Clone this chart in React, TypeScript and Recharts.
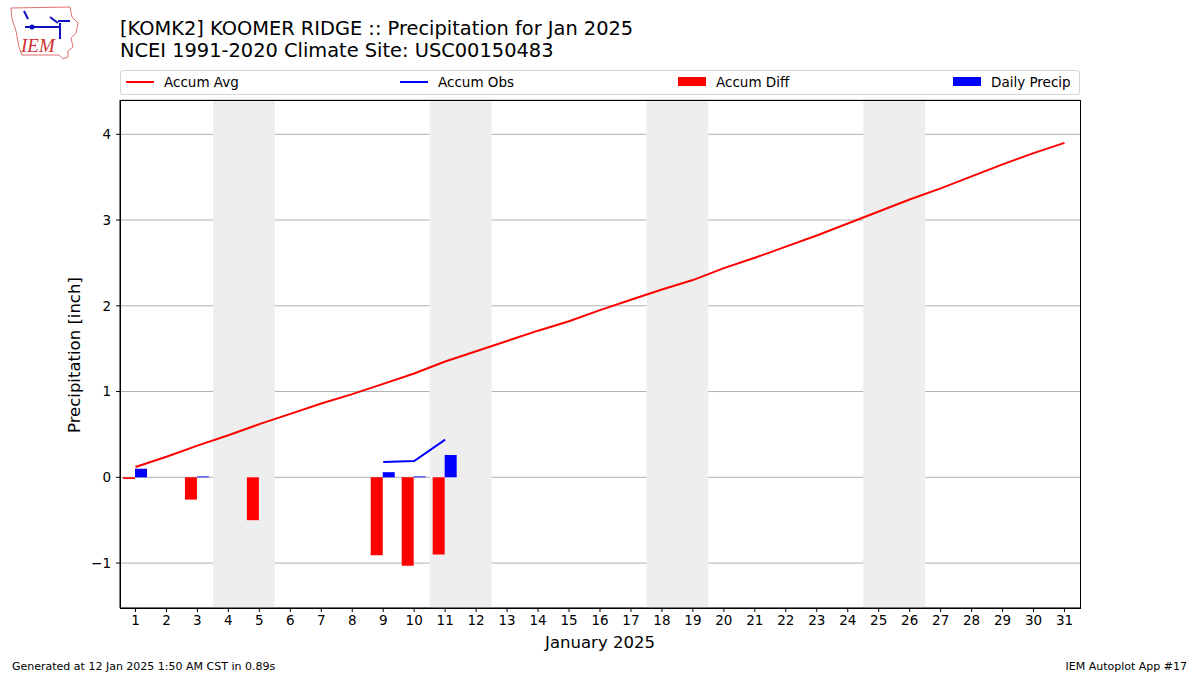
import {
  ComposedChart, Line, Bar, XAxis, YAxis, CartesianGrid, ReferenceArea,
} from "recharts";

const DAYS = [
  1, 2, 3, 4, 5, 6, 7, 8, 9, 10, 11, 12, 13, 14, 15, 16,
  17, 18, 19, 20, 21, 22, 23, 24, 25, 26, 27, 28, 29, 30, 31,
];

const ACCUM_AVG = [
  0.12, 0.24, 0.37, 0.49, 0.62, 0.74, 0.86, 0.97, 1.09, 1.21, 1.35, 1.47, 1.59, 1.71, 1.82, 1.95,
  2.07, 2.19, 2.30, 2.44, 2.56, 2.69, 2.82, 2.96, 3.10, 3.24, 3.37, 3.51, 3.65, 3.78, 3.90,
];

const ACCUM_OBS: (number | null)[] = [
  null, null, null, null, null, null, null, null, 0.18, 0.19, 0.44, null, null, null, null, null,
  null, null, null, null, null, null, null, null, null, null, null, null, null, null, null,
];

const ACCUM_DIFF: (number | null)[] = [
  -0.02, null, -0.26, null, -0.5, null, null, null, -0.91, -1.03, -0.9, null, null, null, null, null,
  null, null, null, null, null, null, null, null, null, null, null, null, null, null, null,
];

const DAILY_PRECIP: (number | null)[] = [
  0.1, null, 0.01, null, null, null, null, null, 0.06, 0.01, 0.26, null, null, null, null, null,
  null, null, null, null, null, null, null, null, null, null, null, null, null, null, null,
];

// weekend spans (Sat..Sun)
const WEEKENDS = [[4, 5], [11, 12], [18, 19], [25, 26]];
const Y_TICKS = [-1, 0, 1, 2, 3, 4];

const LEGEND = [
  { name: "Accum Avg", color: "#ff0000", kind: "line", left: 6 },
  { name: "Accum Obs", color: "#0000ff", kind: "line", left: 280 },
  { name: "Accum Diff", color: "#ff0000", kind: "bar", left: 558 },
  { name: "Daily Precip", color: "#0000ff", kind: "bar", left: 833 },
];

const FONT = "'DejaVu Sans', sans-serif";

const data = DAYS.map((day, i) => ({
  day,
  avg: ACCUM_AVG[i],
  obs: ACCUM_OBS[i],
  diff: ACCUM_DIFF[i],
  precip: DAILY_PRECIP[i],
}));

function Logo() {
  return (
    <svg width={74} height={60} style={{ position: "absolute", left: 8, top: 3 }}>
      <path
        d="M3 5 L62 4 L64 14 L70 20 L68 30 L63 35 L65 44 L60 48 L60 54 L55 56 L51 52 L14 52 L11 44 L8 28 L4 16 Z"
        fill="none" stroke="#e07070" strokeWidth={1}
      />
      <path d="M17 24 L52 24 M42 14 L50 20 M50 18 L62 18 M52 20 L52 36 M16 8 L20 16" stroke="#1010c0" strokeWidth={2} fill="none" />
      <circle cx={24} cy={24} r={2.5} fill="#1010c0" />
      <text x={13} y={49} fontFamily="'Liberation Serif', serif" fontStyle="italic" fontSize={19} fill="#d03030">IEM</text>
    </svg>
  );
}

export default function App() {
  return (
    <div style={{ position: "absolute", left: 0, top: 0, width: 1200, height: 675, background: "#fff", fontFamily: FONT }}>
      <Logo />
      <div style={{ position: "absolute", left: 120, top: 18, fontSize: 19.4, lineHeight: "22px", color: "#000" }}>
        <div>[KOMK2] KOOMER RIDGE :: Precipitation for Jan 2025</div>
        <div>NCEI 1991-2020 Climate Site: USC00150483</div>
      </div>

      {/* legend */}
      <div style={{
        position: "absolute", left: 120, top: 70, width: 958, height: 23,
        border: "1px solid #d5d5d5", borderRadius: 3, fontSize: 13.5,
      }}>
        {LEGEND.map((l) => (
          <div key={l.name} style={{ position: "absolute", left: l.left - 1, top: -1, height: 23, display: "flex", alignItems: "center" }}>
            {l.kind === "line" ? (
              <span style={{ width: 28, height: 2, background: l.color, display: "inline-block" }} />
            ) : (
              <span style={{ width: 28, height: 9, background: l.color, display: "inline-block" }} />
            )}
            <span style={{ marginLeft: 10 }}>{l.name}</span>
          </div>
        ))}
      </div>

      <ComposedChart
        width={1200}
        height={675}
        data={data}
        margin={{ top: 100, right: 120, left: 60, bottom: 37 }}
        barGap={0}
        style={{ position: "absolute", left: 0, top: 0 }}
      >
        {WEEKENDS.map(([a, b]) => (
          <ReferenceArea key={a} x1={a} x2={b} fill="#eeeeee" fillOpacity={1} stroke="none" ifOverflow="extendDomain" />
        ))}
        <CartesianGrid vertical={false} stroke="#b0b0b0" strokeWidth={1} />
        <XAxis
          dataKey="day"
          type="category"
          height={30}
          tickSize={4}
          tickMargin={3}
          interval={0}
          axisLine={{ stroke: "#000" }}
          tickLine={{ stroke: "#000" }}
          tick={{ fill: "#000", fontSize: 13.5, fontFamily: FONT }}
          label={{ value: "January 2025", position: "insideBottom", offset: -10, fill: "#000", fontSize: 16.5, fontFamily: FONT }}
        />
        <YAxis
          type="number"
          width={60}
          domain={[-1.524, 4.4]}
          allowDataOverflow
          ticks={Y_TICKS}
          tickSize={4}
          tickMargin={5}
          axisLine={{ stroke: "#000" }}
          tickLine={{ stroke: "#000" }}
          tickFormatter={(v: number) => String(v).replace("-", "\u2212")}
          tick={{ fill: "#000", fontSize: 13.5, fontFamily: FONT }}
          label={{ value: "Precipitation [inch]", angle: -90, position: "insideLeft", offset: 14, dy: 79, fill: "#000", fontSize: 16.5, fontFamily: FONT }}
        />
        <Bar dataKey="diff" fill="#ff0000" barSize={12} isAnimationActive={false} />
        <Bar dataKey="precip" fill="#0000ff" barSize={12} isAnimationActive={false} />
        <Line dataKey="avg" stroke="#ff0000" strokeWidth={2} dot={false} isAnimationActive={false} />
        <Line dataKey="obs" stroke="#0000ff" strokeWidth={2} dot={false} isAnimationActive={false} />
      </ComposedChart>

      {/* axes frame */}
      <div style={{ position: "absolute", left: 120, top: 100, width: 959, height: 507, border: "1px solid #000", pointerEvents: "none" }} />

      <div style={{ position: "absolute", left: 12, top: 660, fontSize: 11 }}>Generated at 12 Jan 2025 1:50 AM CST in 0.89s</div>
      <div style={{ position: "absolute", right: 13, top: 660, fontSize: 11 }}>IEM Autoplot App #17</div>
    </div>
  );
}
